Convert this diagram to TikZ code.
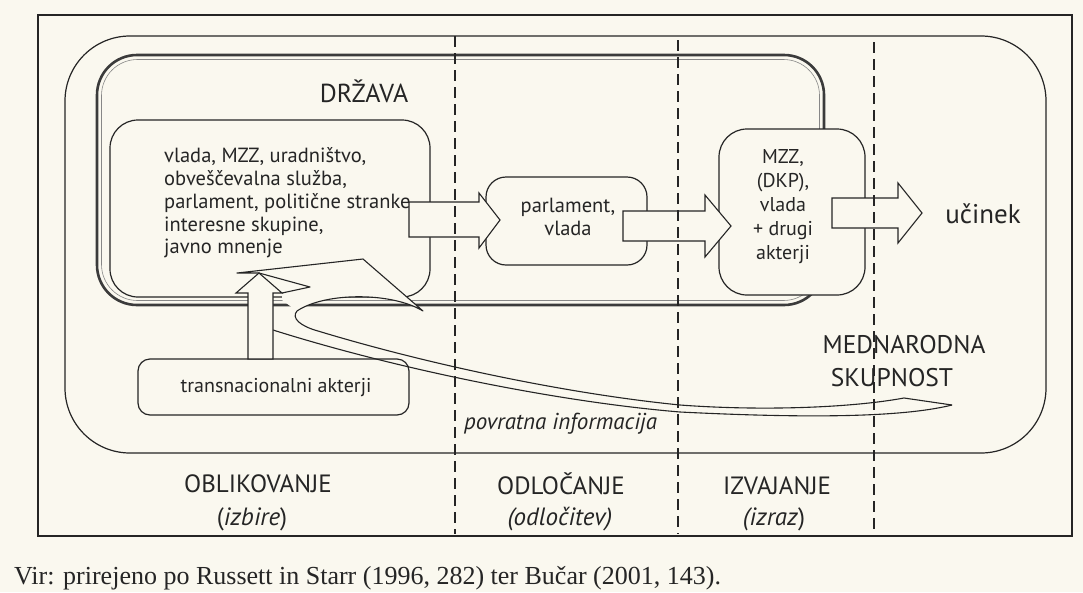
\documentclass[tikz,border=0pt]{standalone}
\usepackage{fontspec}
\setmainfont{PT Sans}
\newfontfamily\capfont{Liberation Serif}
\definecolor{paper}{HTML}{FAF8EF}
\definecolor{ink}{HTML}{252525}
\begin{document}
\begin{tikzpicture}[x=1pt,y=-1pt,
  ln/.style={draw=ink, line width=1.1pt, line join=round},
  rbox/.style={draw=ink, line width=1.2pt, fill=paper, inner sep=0pt},
  barrow/.style={draw=ink, line width=1.1pt, fill=paper, line join=miter},
  divider/.style={draw=ink, line width=1.4pt, dash pattern=on 11pt off 6pt},
  lbl/.style={inner sep=0pt, text=ink},
]
\fill[paper] (0,0) rectangle (1083,592);
\useasboundingbox (0,0) rectangle (1083,592);
% frame and outer rounded rectangle (international community)
\draw[line width=1.2pt, draw=ink] (38,15) rectangle (1072,536);
\draw[line width=1.2pt, draw=ink, rounded corners=65pt] (65,36) rectangle (1046,453);
% state
\draw[line width=2.6pt, draw=ink!90, rounded corners=40pt] (97,55) rectangle (824,305);
\draw[line width=0.6pt, draw=ink!55, rounded corners=36pt] (101.5,59.5) rectangle (819.5,300.5);
\node[lbl, font=\fontsize{26}{26}\selectfont] (drzava) at (364,91) {DRŽAVA};
% boxes
\node[rbox, minimum width=320pt, minimum height=177pt, rounded corners=28pt] (lbox) at (270,208.5) {};
\node[lbl, anchor=north west, align=left, font=\fontsize{20.5}{22.8}\selectfont] (ltext) at (164,147.5) {vlada, MZZ, uradništvo,\\obveščevalna služba,\\parlament, politične stranke,\\interesne skupine,\\javno mnenje};
\node[rbox, minimum width=161pt, minimum height=88pt, rounded corners=20pt] (pbox) at (566.5,221) {};
\node[lbl, anchor=north, align=center, font=\fontsize{20.5}{22.5}\selectfont] (ptext) at (568,198) {parlament,\\vlada};
\node[rbox, minimum width=146pt, minimum height=166pt, rounded corners=28pt] (mbox) at (792,212) {};
\node[lbl, anchor=north, align=center, font=\fontsize{20}{24}\selectfont] (mtext) at (783,149) {MZZ,\\(DKP),\\vlada\\+ drugi\\akterji};
\node[rbox, minimum width=271pt, minimum height=56pt, rounded corners=12pt] (tbox) at (273.5,387) {};
\node[lbl, font=\fontsize{20}{20}\selectfont] (ttext) at (276,388) {transnacionalni akterji};
% block arrows
\draw[barrow] (409,202) -- (479,202) -- (479,193) -- (500,220) -- (479,248) -- (479,237) -- (409,237) -- cycle;
\draw[barrow] (623,211) -- (705,211) -- (705,195) -- (731,226) -- (705,257) -- (705,241) -- (623,241) -- cycle;
\draw[barrow] (832,198) -- (898,198) -- (898,183) -- (922,213) -- (898,243) -- (898,228) -- (832,228) -- cycle;
\node[lbl, font=\fontsize{27}{27}\selectfont] (ucinek) at (983,214) {učinek};
% feedback arrow
\path[fill=paper] (237,273) -- (363,259) -- (423,311) .. controls (392,292) and (325,292) .. (297,311) -- (282,300) -- (282,293) -- (310,287) -- (259,273) -- cycle;
\draw[ln] (259,273) -- (237,273) -- (363,259) -- (423,311) .. controls (392,292) and (325,292) .. (297,311) .. controls (291,318) and (300,326) .. (318,331) .. controls (420,362) and (560,393) .. (680,405) .. controls (760,411) and (850,408) .. (904,398) -- (952,405);
\draw[ln] (952,405) .. controls (900,418) and (800,418) .. (680,412) .. controls (560,402) and (400,370) .. (273,330);
\draw[ln] (282,293) -- (310,287) -- (259,273);
% transnational arrow
\draw[barrow] (248,359) -- (248,293) -- (236,293) -- (259,273) -- (282,293) -- (273,293) -- (273,359) -- cycle;
% labels
\node[lbl, anchor=west, font=\itshape\fontsize{23}{23}\selectfont] (povr) at (464,424) {povratna informacija};
\node[lbl, font=\fontsize{25.5}{25.5}\selectfont] (mednar) at (904,345) {MEDNARODNA};
\node[lbl, font=\fontsize{25.5}{25.5}\selectfont] (skup) at (892,378) {SKUPNOST};
\node[lbl, font=\fontsize{25}{25}\selectfont] (obl) at (258,484) {OBLIKOVANJE};
\node[lbl, font=\fontsize{25}{25}\selectfont] (izb) at (252,519) {(\textit{izbire})};
\node[lbl, font=\fontsize{25}{25}\selectfont] (odl) at (561,484) {ODLOČANJE};
\node[lbl, font=\itshape\fontsize{25}{25}\selectfont] (odlt) at (560,519) {(odločitev)};
\node[lbl, font=\fontsize{25}{25}\selectfont] (izv) at (777,486) {IZVAJANJE};
\node[lbl, font=\fontsize{25}{25}\selectfont] (izr) at (774,519) {\textit{(izraz})};
% phase dividers
\draw[divider] (455,36) -- (455,534);
\draw[divider] (678,40) -- (678,534);
\draw[divider] (874,42) -- (874,536);
% source
\node[lbl, anchor=base west, font=\capfont\fontsize{26}{26}\selectfont] (src) at (14,584.5) {Vir: prirejeno po Russett in Starr (1996, 282) ter Bučar (2001, 143).};
\end{tikzpicture}
\end{document}
